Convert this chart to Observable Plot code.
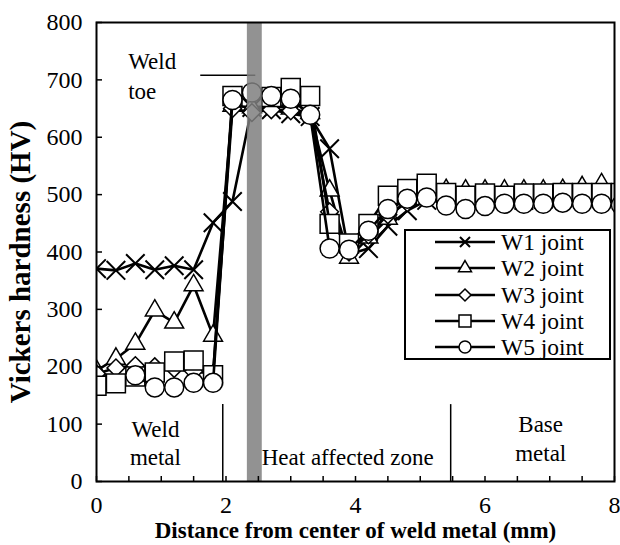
<!DOCTYPE html>
<html><head><meta charset="utf-8">
<script src="https://cdn.jsdelivr.net/npm/d3@7"></script>
<script src="https://cdn.jsdelivr.net/npm/@observablehq/plot@0.6"></script>
<style>
body{margin:0;background:#fff;}
#wrap{position:relative;width:620px;height:545px;font-family:"Liberation Serif","Times New Roman",serif;color:#000;}
#legend{position:absolute;left:404px;top:229px;width:203px;height:127px;border:2px solid #000;background:#fff;}
.row{position:absolute;left:0;height:26px;display:flex;align-items:center;}
.row span{font-size:23.5px;line-height:26px;margin-left:3px;white-space:nowrap;}
</style></head><body><div id="wrap"></div>
<script>
// ---- data ----
const xs = [0, 0.3, 0.6, 0.9, 1.2, 1.5, 1.8, 2.1, 2.4, 2.7, 3.0, 3.3, 3.6, 3.9, 4.2, 4.5, 4.8, 5.1, 5.4, 5.7, 6.0, 6.3, 6.6, 6.9, 7.2, 7.5, 7.8, 8.1];
const w1 = [371, 368, 380, 369, 376, 369, 451, 488, 652, 648, 641, 636, 580, 396, 406, 445, 472, 490, 492, 490, 492, 494, 490, 492, 495, 495, 495, 495];
const w2 = [193, 214, 240, 298, 277, 342, 254, 655, 652, 655, 650, 642, 507, 390, 425, 458, 492, 500, 508, 507, 507, 507, 507, 507, 508, 513, 518, 518];
const w3 = [188, 198, 202, 200, 197, 192, 188, 650, 643, 648, 646, 638, 470, 400, 430, 465, 486, 496, 495, 494, 495, 496, 495, 496, 497, 498, 500, 500];
const w4 = [167, 171, 183, 190, 209, 211, 185, 672, null, 670, 686, 672, 449, 415, 449, 498, 510, 519, 503, 498, 502, 498, 502, 502, 503, 503, 503, 503];
const w5 = [null, null, 185, 164, 164, 172, 172, 665, 678, 672, 667, 639, 406, 404, 437, 475, 493, 495, 481, 475, 480, 484, 484, 484, 486, 484, 484, 482];
const seriesNames = ["W1 joint", "W2 joint", "W3 joint", "W4 joint", "W5 joint"];
const seriesValues = [w1, w2, w3, w4, w5];
const yTicks = [0, 100, 200, 300, 400, 500, 600, 700, 800];
const xTicks = [0, 2, 4, 6, 8];
const xMinorTicks = [0, 0.5, 1, 1.5, 2, 2.5, 3, 3.5, 4, 4.5, 5, 5.5, 6, 6.5, 7, 7.5, 8];
const toeBand = [2.33, 2.56];
const zoneBounds = [1.95, 5.47];
const zoneLineTop = 134;
const zoneText = ["Weld\nmetal", "Heat affected zone", "Base\nmetal"];
const zoneX = [0.91, 3.88, 6.86];
const zoneY = [69, 45, 77];
const toeText = "Weld\ntoe";
const toeX = 0.49, toeY = 709;
const toeLineX = [1.61, 2.46], toeLineY = 708;
const xTitle = "Distance from center of weld metal (mm)";
const yTitle = "Vickers hardness (HV)";

// ---- styles ----
const symbols = ["times", "triangle", "diamond2", "square", "circle"];
const radii = [8.5, 7, 8, 10.7, 9.5];
const FONT = "Liberation Serif";

const series = seriesValues.map((vals, i) =>
  xs.map((x, j) => ({x, y: vals[j], s: seriesNames[i]})).filter(d => d.y != null));

const zones = zoneText.map((t, i) => ({t, x: zoneX[i], y: zoneY[i]}));

const marks = [
  Plot.ruleX(zoneBounds, {y1: 0, y2: zoneLineTop, stroke: "black", strokeWidth: 1.5}),
  Plot.text(zones, {x: "x", y: "y", text: "t", fontSize: 23, lineHeight: 1.25, fill: "black"}),
  Plot.text([toeText], {x: toeX, y: toeY, text: d => d, textAnchor: "start", fontSize: 23, lineHeight: 1.3, fill: "black"}),
  Plot.ruleY([toeLineY], {x1: toeLineX[0], x2: toeLineX[1], stroke: "black", strokeWidth: 1.5})
];
series.forEach((d, i) => {
  marks.push(Plot.line(d, {x: "x", y: "y", stroke: "black", strokeWidth: 2.6, clip: true}));
  marks.push(Plot.dot(d, {x: "x", y: "y", symbol: symbols[i], r: radii[i], fill: "white", stroke: "black", strokeWidth: i === 0 ? 2 : 1.5, clip: true}));
});
marks.push(
  Plot.rect([toeBand], {x1: d => d[0], x2: d => d[1], y1: 0, y2: 800, fill: "#7f7f7f", fillOpacity: 0.85}),
  Plot.axisY(yTicks, {tickSize: -6, tickPadding: 20, label: null, fontSize: 24, stroke: "black", strokeWidth: 1.5}),
  Plot.axisX(xMinorTicks, {tickSize: -5, tickFormat: () => "", label: null, strokeWidth: 1.5}),
  Plot.axisX(xTicks, {tickSize: 0, tickPadding: 14, label: null, fontSize: 24}),
  Plot.text([yTitle], {frameAnchor: "left", dx: -76, dy: 10, rotate: -90, textAnchor: "middle", lineAnchor: "middle", fontWeight: "bold", fontSize: 29, fill: "black", text: d => d}),
  Plot.text([xTitle], {frameAnchor: "bottom", dy: 49, lineAnchor: "middle", fontWeight: "bold", fontSize: 23, fill: "black", text: d => d}),
  Plot.frame({stroke: "black", strokeWidth: 2})
);

const chart = Plot.plot({
  width: 620, height: 545,
  marginLeft: 96, marginRight: 6, marginTop: 22, marginBottom: 64,
  x: {domain: [0, 8], label: null},
  y: {domain: [0, 800], label: null},
  style: {fontFamily: FONT, fontSize: "23px", color: "black", background: "white", overflow: "visible"},
  marks
});
const wrap = document.getElementById("wrap");
wrap.appendChild(chart);

// ---- legend ----
const legend = document.createElement("div");
legend.id = "legend";
const legendSizes = [67, 73, 92, 144, 113];
const symTypes = {times: d3.symbolTimes, triangle: d3.symbolTriangle, diamond2: d3.symbolDiamond2, square: d3.symbolSquare, circle: d3.symbolCircle};
seriesNames.forEach((name, i) => {
  const row = document.createElement("div");
  row.className = "row";
  row.style.top = (-2 + i * 26.3) + "px";
  const svg = d3.create("svg").attr("width", 92).attr("height", 26);
  svg.append("line").attr("x1", 29).attr("x2", 89).attr("y1", 13).attr("y2", 13).attr("stroke", "black").attr("stroke-width", 2.6);
  svg.append("path").attr("transform", "translate(59,13)")
    .attr("d", d3.symbol(symTypes[symbols[i]], legendSizes[i])())
    .attr("fill", "white").attr("stroke", "black").attr("stroke-width", i === 0 ? 2 : 1.5);
  row.appendChild(svg.node());
  const span = document.createElement("span");
  span.textContent = name;
  row.appendChild(span);
  legend.appendChild(row);
});
wrap.appendChild(legend);
</script></body></html>
